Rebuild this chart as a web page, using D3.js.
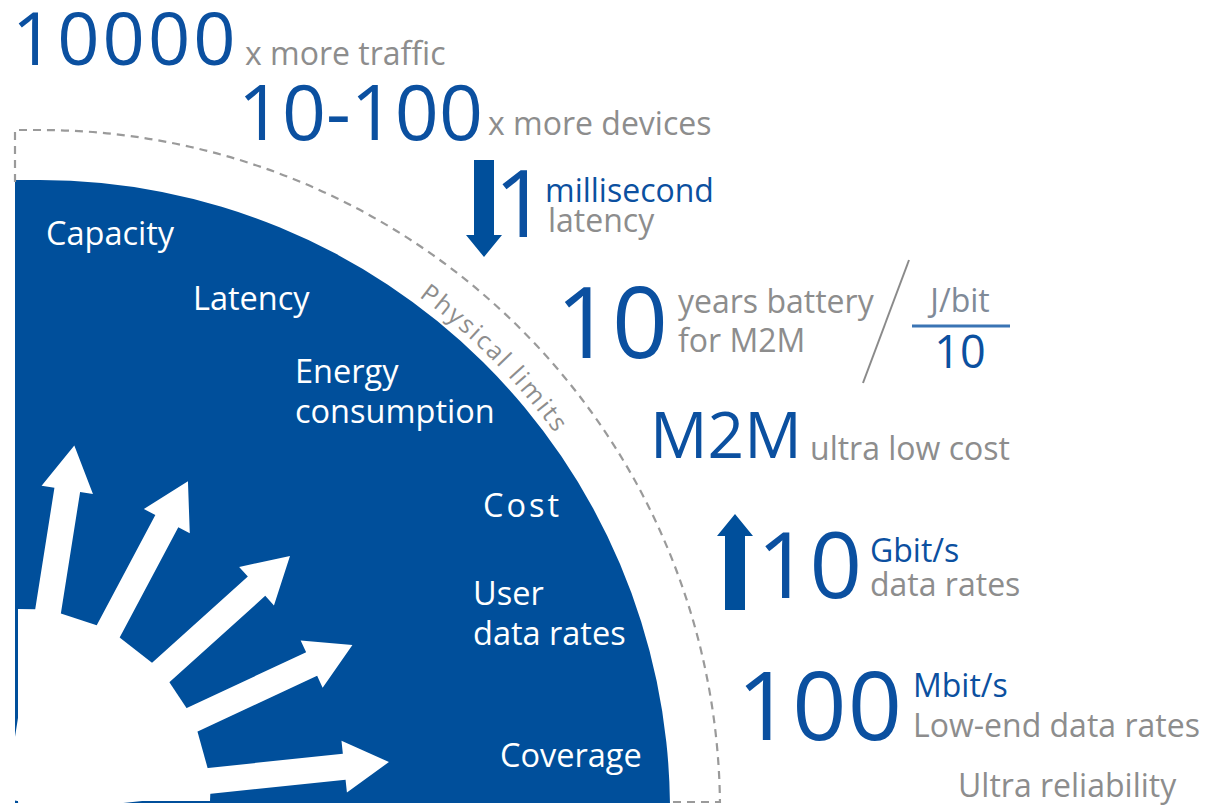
<!DOCTYPE html>
<html>
<head>
<meta charset="utf-8">
<script src="https://cdn.jsdelivr.net/npm/d3@7"></script>
<style>
  body { margin: 0; background: #fff; }
  svg { display: block; font-family: "Open Sans", sans-serif; }
</style>
</head>
<body>
<div id="chart"></div>
<script>
// ---- data ----
var requirementLabels = [["Capacity"], ["Latency"], ["Energy", "consumption"], ["Cost"], ["User", "data rates"], ["Coverage"]];
var arrowAngles = [81, 62, 42, 25, 6];          // degrees above horizontal
var arrowLengths = [360, 362, 366, 369, 373];   // from the hub origin
var metricValues = ["10000", "10-100", "1", "10", "M2M", "10", "100"];
var metricUnits = [["x more traffic"], ["x more devices"], ["millisecond", "latency"], ["years battery", "for M2M"], ["ultra low cost"], ["Gbit/s", "data rates"], ["Mbit/s", "Low-end data rates"]];
var unitBlueFirst = [false, false, true, false, false, true, true];
var energyFraction = ["J/bit", "10"];
var limitLabel = "Physical limits";
var footnote = "Ultra reliability";

// ---- layout ----
var width = 1210, height = 806;
var blue = "#004f9b", textBlue = "#0b50a0", gray = "#8d8d8d";
var center = {x: 40, y: 810};
var rBlue = 630, rLimit = 680, rText = 638;
var hub = {x: 18, y: 801, r: 192};
var labelPos = [[46, 245], [193, 310], [295, 383], [483, 517], [473, 605], [500, 767]];
// x, baseline, font size, letter spacing
var valuePos = [[12, 65, 74, 3], [238, 140, 77, 0], [494, 237, 94, 0], [556, 358, 98, 0], [650, 458, 64, 0], [757, 598, 92, 0], [737, 740, 95, 1]];
var unitPos = [[245, 65], [488, 135], [545, 202], [678, 313], [810, 460], [870, 562], [913, 697]];

var deg = d3.scaleLinear().domain([0, 90]).range([0, Math.PI / 2]);
var len = d3.scaleLinear().domain([0, 1]).range([0, 1]);

var svg = d3.select("#chart").append("svg")
    .attr("width", width)
    .attr("height", height);

// blue quarter disc
var bp = d3.path();
bp.moveTo(15, 803);
bp.lineTo(15, center.y - rBlue);
bp.lineTo(center.x, center.y - rBlue);
bp.arc(center.x, center.y, rBlue, -Math.PI / 2, Math.asin(-7 / rBlue));
bp.closePath();
svg.append("path").attr("d", bp.toString()).attr("fill", blue);

// dashed physical limit
var dp = d3.path();
dp.moveTo(15, 182);
dp.lineTo(15, center.y - rLimit);
dp.lineTo(center.x, center.y - rLimit);
dp.arc(center.x, center.y, rLimit, -Math.PI / 2, Math.asin(-8 / rLimit));
dp.lineTo(668, 802);
svg.append("path").attr("d", dp.toString())
    .attr("fill", "none")
    .attr("stroke", "#9a9a9a")
    .attr("stroke-width", 2.2)
    .attr("stroke-dasharray", "8,6");

// "Physical limits" along the arc
var tp = d3.path();
tp.moveTo(center.x + rText * Math.cos(deg(-60)), center.y + rText * Math.sin(deg(-60)));
tp.arc(center.x, center.y, rText, deg(-60), deg(-20));
svg.append("defs").append("path").attr("id", "limitArc").attr("d", tp.toString());
svg.append("text")
    .attr("fill", gray)
    .attr("font-size", 25)
    .attr("letter-spacing", 2.2)
    .append("textPath")
    .attr("href", "#limitArc")
    .attr("startOffset", (36.4 - 30) * Math.PI / 180 * rText)
    .text(limitLabel);

// white hub with arrows
var sw = 13, hw = 26, hl = 45;
function pt(a, r, s) {
    // point at distance r along angle a, offset s sideways (toward larger angle)
    return [hub.x + r * Math.cos(a) - s * Math.sin(a), hub.y - r * Math.sin(a) - s * Math.cos(a)];
}
var hubPts = [[hub.x, hub.y], [hub.x, hub.y - hub.r]];
arrowAngles.forEach(function(d) {
    var a = deg(d);
    hubPts.push(pt(a, hub.r, sw), pt(a, hub.r, -sw));
});
hubPts.push([hub.x + hub.r, hub.y]);
svg.append("polygon").attr("points", hubPts.join(" ")).attr("fill", "#fff");

svg.append("g").selectAll("polygon")
    .data(arrowAngles)
    .join("polygon")
    .attr("fill", "#fff")
    .attr("points", function(d, i) {
        var a = deg(d), L = len(arrowLengths[i]);
        return [pt(a, 0, sw), pt(a, L - hl, sw), pt(a, L - hl, hw), pt(a, L, 0),
                pt(a, L - hl, -hw), pt(a, L - hl, -sw), pt(a, 0, -sw)].join(" ");
    });

// requirement labels inside the disc
svg.append("g").selectAll("text")
    .data(requirementLabels)
    .join("text")
    .attr("x", function(d, i) { return labelPos[i][0]; })
    .attr("y", function(d, i) { return labelPos[i][1]; })
    .attr("fill", "#fff")
    .attr("font-size", 32.5)
    .attr("letter-spacing", function(d) { return d[0] == "Cost" ? 3 : 0; })
    .selectAll("tspan")
    .data(function(d) { return d; })
    .join("tspan")
    .attr("x", function() { return this.parentNode.getAttribute("x"); })
    .attr("dy", function(d, j) { return j ? 40 : 0; })
    .text(function(d) { return d; });

// big metric numbers
svg.append("g").selectAll("text")
    .data(metricValues)
    .join("text")
    .attr("x", function(d, i) { return valuePos[i][0]; })
    .attr("y", function(d, i) { return valuePos[i][1]; })
    .attr("font-size", function(d, i) { return valuePos[i][2]; })
    .attr("letter-spacing", function(d, i) { return valuePos[i][3]; })
    .attr("fill", textBlue)
    .text(function(d) { return d; });

// units next to numbers
var units = svg.append("g").selectAll("text")
    .data(metricUnits)
    .join("text")
    .attr("x", function(d, i) { return unitPos[i][0]; })
    .attr("y", function(d, i) { return unitPos[i][1]; })
    .attr("font-size", 32);
units.selectAll("tspan")
    .data(function(d, i) { return d.map(function(t, j) { return {t: t, j: j, blue: unitBlueFirst[i] && j == 0, x: unitPos[i][0]}; }); })
    .join("tspan")
    .attr("x", function(d) { return d.x + (d.j && d.t == "latency" ? 3 : 0); })
    .attr("dy", function(d) { return d.j ? (d.t == "latency" ? 30 : d.t == "for M2M" ? 39 : d.t == "data rates" ? 34 : 40) : 0; })
    .attr("fill", function(d) { return d.blue ? textBlue : gray; })
    .text(function(d) { return d.t; });

// down / up arrows
function blockArrow(x, yTail, yTip) {
    var dir = yTip > yTail ? 1 : -1;
    var yb = yTip - dir * 22;
    return [[x - 10, yTail], [x - 10, yb], [x - 18, yb], [x, yTip], [x + 18, yb], [x + 10, yb], [x + 10, yTail]].join(" ");
}
svg.append("polygon").attr("points", blockArrow(484, 160, 257)).attr("fill", blue);
svg.append("polygon").attr("points", blockArrow(735, 610, 514)).attr("fill", blue);

// energy slash and fraction
svg.append("line").attr("x1", 909).attr("y1", 260).attr("x2", 863).attr("y2", 383)
    .attr("stroke", "#8a8a8a").attr("stroke-width", 2);
svg.append("line").attr("x1", 912).attr("y1", 326).attr("x2", 1010).attr("y2", 326)
    .attr("stroke", "#3a74b4").attr("stroke-width", 3);
svg.append("text").attr("x", 960).attr("y", 312).attr("text-anchor", "middle")
    .attr("font-size", 32).attr("fill", "#7f8a98").text(energyFraction[0]);
svg.append("text").attr("x", 960).attr("y", 368).attr("text-anchor", "middle")
    .attr("font-size", 45).attr("fill", textBlue).text(energyFraction[1]);

svg.append("text").attr("x", 958).attr("y", 797)
    .attr("font-size", 32).attr("fill", gray).text(footnote);
</script>
</body>
</html>
